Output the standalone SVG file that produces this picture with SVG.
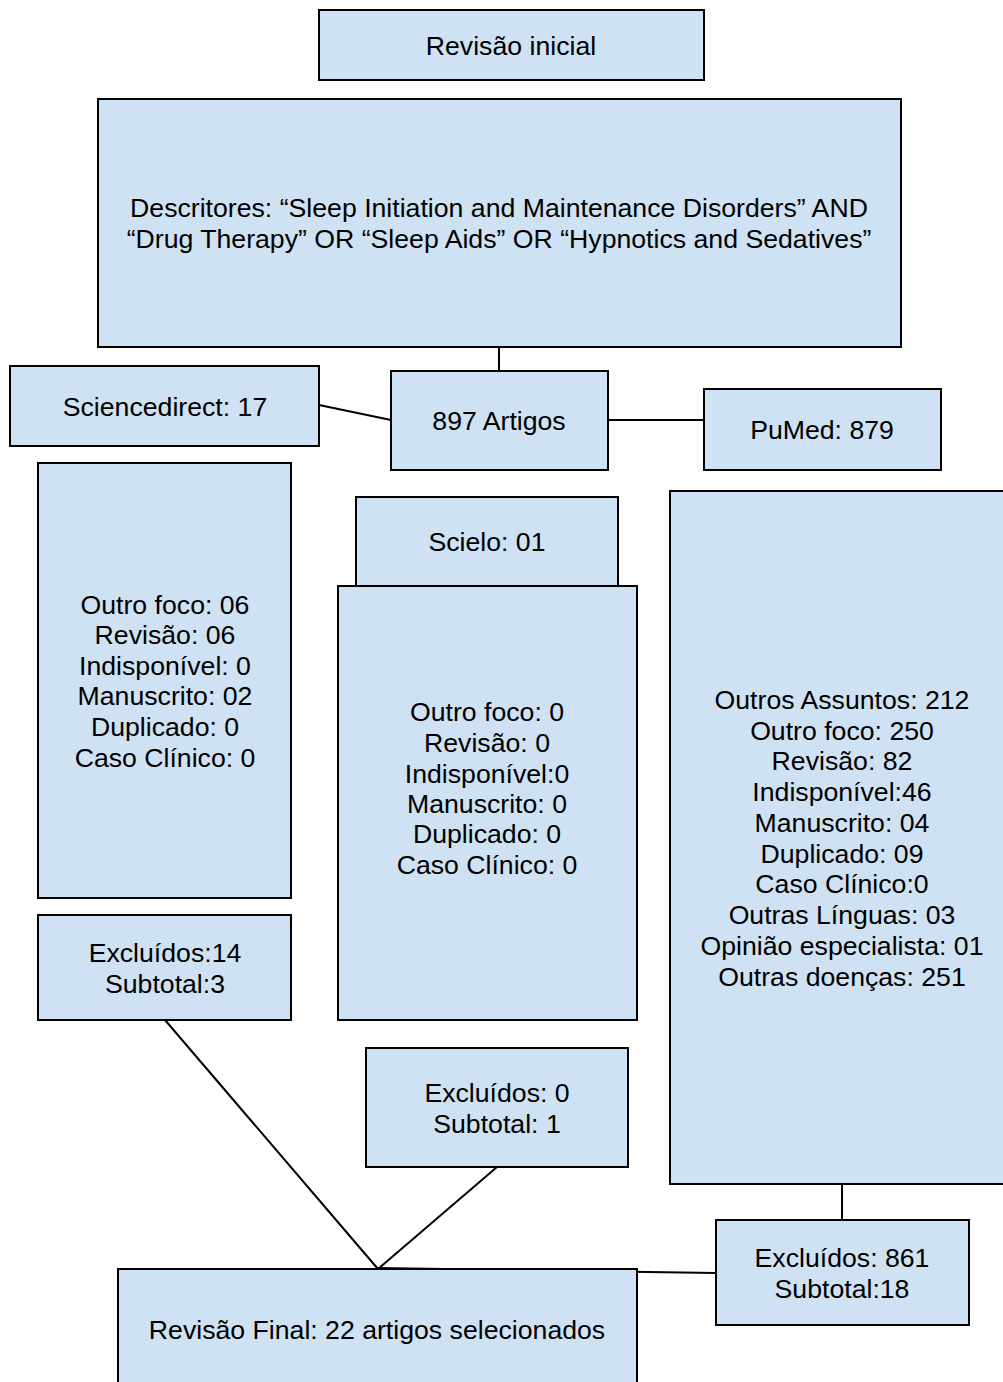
<svg xmlns="http://www.w3.org/2000/svg" width="1003" height="1382" viewBox="0 0 1003 1382">
<style>
.b{fill:#cfe2f3;stroke:#000;stroke-width:2}
.t{font-family:"Liberation Sans",Arial,sans-serif;font-size:26.67px;fill:#000;text-anchor:middle}
.c{stroke:#000;stroke-width:2;fill:none}
</style>
<rect width="1003" height="1382" fill="#fff"/>
<g id="connectors">
<line class="c" x1="499" y1="347" x2="499" y2="371"/>
<line class="c" x1="319" y1="405" x2="391" y2="420"/>
<line class="c" x1="608" y1="420" x2="704" y2="420"/>
<line class="c" x1="842" y1="1184" x2="842" y2="1220"/>
<line class="c" x1="165" y1="1020" x2="378" y2="1269"/>
<line class="c" x1="497" y1="1167" x2="378" y2="1269"/>
<line class="c" x1="378" y1="1268" x2="716" y2="1273"/>
</g>
<g id="revisao-inicial"><rect class="b" x="319" y="10" width="385" height="70"/><text class="t" x="511" y="55">Revisão inicial</text></g>
<g id="descritores"><rect class="b" x="98" y="99" width="803" height="248"/><text class="t" x="499" y="217">Descritores: “Sleep Initiation and Maintenance Disorders” AND</text><text class="t" x="499" y="248">“Drug Therapy” OR “Sleep Aids” OR “Hypnotics and Sedatives”</text></g>
<g id="sciencedirect"><rect class="b" x="10" y="366" width="309" height="80"/><text class="t" x="165" y="416">Sciencedirect: 17</text></g>
<g id="artigos"><rect class="b" x="391" y="371" width="217" height="99"/><text class="t" x="499" y="430">897 Artigos</text></g>
<g id="pumed"><rect class="b" x="704" y="389" width="237" height="81"/><text class="t" x="822" y="439">PuMed: 879</text></g>
<g id="sd-criteria"><rect class="b" x="38" y="463" width="253" height="435"/>
<text class="t" x="165" y="614">Outro foco: 06</text><text class="t" x="165" y="644">Revisão: 06</text><text class="t" x="165" y="675">Indisponível: 0</text><text class="t" x="165" y="705">Manuscrito: 02</text><text class="t" x="165" y="736">Duplicado: 0</text><text class="t" x="165" y="767">Caso Clínico: 0</text></g>
<g id="scielo"><rect class="b" x="356" y="497" width="262" height="89"/><text class="t" x="487" y="551">Scielo: 01</text></g>
<g id="scielo-criteria"><rect class="b" x="338" y="586" width="299" height="434"/>
<text class="t" x="487" y="721">Outro foco: 0</text><text class="t" x="487" y="752">Revisão: 0</text><text class="t" x="487" y="783">Indisponível:0</text><text class="t" x="487" y="813">Manuscrito: 0</text><text class="t" x="487" y="843">Duplicado: 0</text><text class="t" x="487" y="874">Caso Clínico: 0</text></g>
<g id="pumed-criteria"><rect class="b" x="670" y="491" width="345" height="693"/>
<text class="t" x="842" y="709">Outros Assuntos: 212</text><text class="t" x="842" y="740">Outro foco: 250</text><text class="t" x="842" y="770">Revisão: 82</text><text class="t" x="842" y="801">Indisponível:46</text><text class="t" x="842" y="832">Manuscrito: 04</text><text class="t" x="842" y="863">Duplicado: 09</text><text class="t" x="842" y="893">Caso Clínico:0</text><text class="t" x="842" y="924">Outras Línguas: 03</text><text class="t" x="842" y="955">Opinião especialista: 01</text><text class="t" x="842" y="986">Outras doenças: 251</text></g>
<g id="excl-sd"><rect class="b" x="38" y="915" width="253" height="105"/><text class="t" x="165" y="962">Excluídos:14</text><text class="t" x="165" y="993">Subtotal:3</text></g>
<g id="excl-scielo"><rect class="b" x="366" y="1048" width="262" height="119"/><text class="t" x="497" y="1102">Excluídos: 0</text><text class="t" x="497" y="1133">Subtotal: 1</text></g>
<g id="excl-pumed"><rect class="b" x="716" y="1220" width="253" height="105"/><text class="t" x="842" y="1267">Excluídos: 861</text><text class="t" x="842" y="1298">Subtotal:18</text></g>
<g id="final"><rect class="b" x="118" y="1269" width="519" height="125"/><text class="t" x="377" y="1339">Revisão Final: 22 artigos selecionados</text></g>
</svg>
